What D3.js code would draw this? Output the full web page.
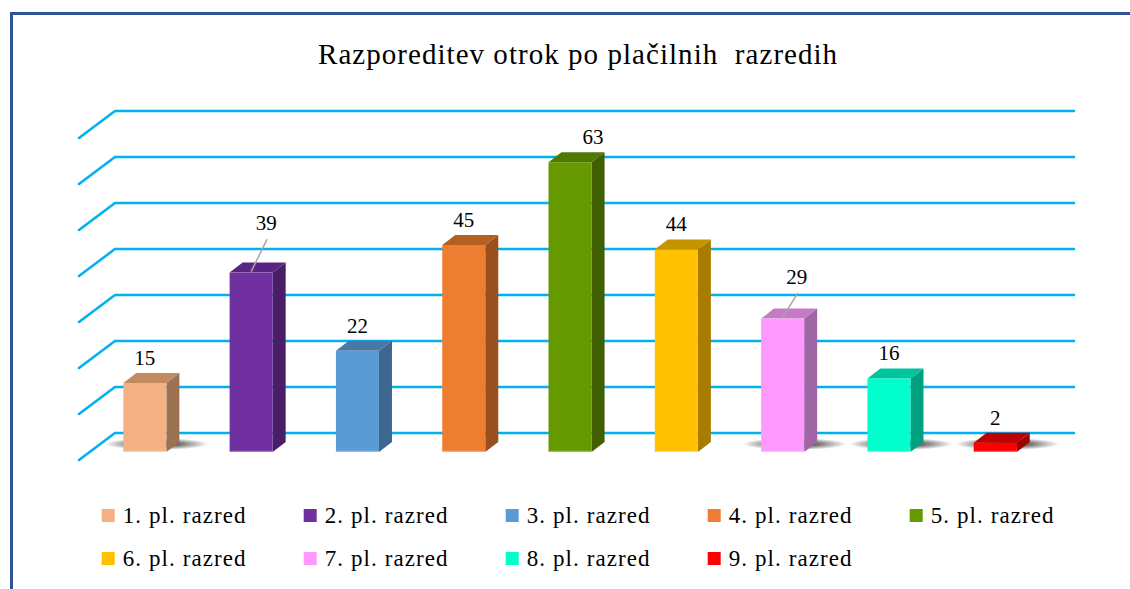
<!DOCTYPE html>
<html>
<head>
<meta charset="utf-8">
<script src="https://cdn.jsdelivr.net/npm/d3@7/dist/d3.min.js"></script>
<style>
  html, body { margin: 0; padding: 0; background: #fff; }
  #wrap { position: relative; width: 1130px; height: 589px; overflow: hidden; }
  svg { display: block; position: absolute; left: 0; top: 0; }
  .lbl { position: absolute; white-space: pre; line-height: 1; color: #000;
         font-family: "Liberation Serif", "Times New Roman", Tinos, serif; }
</style>
</head>
<body>
<div id="wrap"><svg id="chart" width="1130" height="589"></svg></div>
<script>
// ---- data ----
const title = "Razporeditev otrok po plačilnih  razredih";
const categories = ["1. pl. razred", "2. pl. razred", "3. pl. razred", "4. pl. razred", "5. pl. razred",
                    "6. pl. razred", "7. pl. razred", "8. pl. razred", "9. pl. razred"];
const values = [15, 39, 22, 45, 63, 44, 29, 16, 2];
const gridTicks = [0, 10, 20, 30, 40, 50, 60, 70];

// ---- style ----
const frontColors = ["#F4B183", "#7030A0", "#5B9BD5", "#ED7D31", "#669900", "#FFC000", "#FF99FF", "#00FFCC", "#FF0000"];
const topColors   = ["#C48A60", "#5A2582", "#4978A8", "#B65F22", "#4E7800", "#C49300", "#C47AC4", "#00C49C", "#C00000"];
const sideColors  = ["#9C7152", "#4A1E66", "#3C6790", "#9A4F1E", "#405F00", "#A67D00", "#A065A5", "#00A080", "#A00000"];
const shadowed    = [true, false, false, false, false, false, true, true, true];
const labelNudge  = [[0,0],[15,-24],[0,0],[0,0],[23,0],[0,0],[14,-16],[0,0],[0,0]];
const leader      = [false, true, false, false, false, false, true, false, false];

const svg = d3.select("#chart");
const wrap = d3.select("#wrap");
const BASE = 0.84; // baseline position as a fraction of font size (line-height 1)

// HTML text helper: place text with its baseline at y
function addText(str, x, y, size, anchor) {
  const el = wrap.append("div").attr("class", "lbl")
    .style("font-size", size + "px").text(str);
  const w = el.node().getBoundingClientRect().width;
  const left = anchor === "middle" ? x - w / 2 : x;
  el.style("left", left + "px").style("top", (y - BASE * size) + "px");
  return el;
}
function fitWidth(el, target) {
  const n = el.text().length;
  const w = el.node().getBoundingClientRect().width;
  el.style("letter-spacing", ((target - w) / n).toFixed(2) + "px");
}

// frame
svg.append("path")
  .attr("d", "M11.5,589 L11.5,13.5 L1130,13.5")
  .attr("fill", "none").attr("stroke", "#2F5597").attr("stroke-width", 3);

// title
const tEl = addText(title, 318, 64, 29, "start");
fitWidth(tEl, 520);

// scales
const depthX = 36, depthY = 27;
const barDX = 13, barDY = 10;
const yBack  = d3.scaleLinear().domain([0, 70]).range([433, 111]);
const yFront = d3.scaleLinear().domain([0, 70]).range([452, 130]);
const x = d3.scaleBand().domain(categories).range([91.7, 1048.4])
  .paddingInner(0.595).paddingOuter(0.2975);

// gridlines
svg.append("g").attr("stroke", "#00B0F0").attr("stroke-width", 2.5)
  .attr("fill", "none").attr("stroke-linecap", "round")
  .selectAll("path").data(gridTicks).join("path")
  .attr("d", t => {
    const yb = yBack(t);
    return `M${115 - depthX},${yb + depthY} L115,${yb} L1074,${yb}`;
  });

// shadow gradient
const defs = svg.append("defs");
const rg = defs.append("radialGradient").attr("id", "shadowGrad");
rg.append("stop").attr("offset", "0%").attr("stop-color", "#000").attr("stop-opacity", 0.8);
rg.append("stop").attr("offset", "45%").attr("stop-color", "#000").attr("stop-opacity", 0.55);
rg.append("stop").attr("offset", "100%").attr("stop-color", "#000").attr("stop-opacity", 0);

const data = categories.map((c, i) => ({ c, v: values[i], i }));

svg.append("g").selectAll("ellipse").data(data.filter(d => shadowed[d.i])).join("ellipse")
  .attr("cx", d => x(d.c) + x.bandwidth() / 2 + 12)
  .attr("cy", yFront(0) - 8)
  .attr("rx", 52).attr("ry", 6)
  .attr("fill", "url(#shadowGrad)");

// bars
const bars = svg.append("g").selectAll("g").data(data).join("g");
bars.append("path")
  .attr("d", d => {
    const x1 = x(d.c) + x.bandwidth(), y0 = yFront(0), yt = yFront(d.v);
    return `M${x1},${y0} L${x1 + barDX},${y0 - barDY} L${x1 + barDX},${yt - barDY} L${x1},${yt} Z`;
  })
  .attr("fill", d => sideColors[d.i]);
bars.append("path")
  .attr("d", d => {
    const x0 = x(d.c), x1 = x0 + x.bandwidth(), yt = yFront(d.v);
    return `M${x0},${yt} L${x0 + barDX},${yt - barDY} L${x1 + barDX},${yt - barDY} L${x1},${yt} Z`;
  })
  .attr("fill", d => topColors[d.i]);
bars.append("rect")
  .attr("x", d => x(d.c))
  .attr("y", d => yFront(d.v))
  .attr("width", x.bandwidth())
  .attr("height", d => yFront(0) - yFront(d.v))
  .attr("fill", d => frontColors[d.i]);
bars.append("line")
  .attr("x1", d => x(d.c)).attr("x2", d => x(d.c) + x.bandwidth())
  .attr("y1", yFront(0) - 0.5).attr("y2", yFront(0) - 0.5)
  .attr("stroke", "#fff").attr("stroke-opacity", 0.35).attr("stroke-width", 1.5);

// leader lines
svg.append("g").selectAll("line").data(data.filter(d => leader[d.i])).join("line")
  .attr("x1", d => x(d.c) + x.bandwidth() / 2)
  .attr("y1", d => yFront(d.v) - 1)
  .attr("x2", d => x(d.c) + x.bandwidth() / 2 + labelNudge[d.i][0] + 1)
  .attr("y2", d => yFront(d.v) - 17.5 + labelNudge[d.i][1] + 8)
  .attr("stroke", "#A6A6A6").attr("stroke-width", 1.5);

// value labels
data.forEach(d => {
  addText(String(d.v),
    x(d.c) + x.bandwidth() / 2 + labelNudge[d.i][0],
    yFront(d.v) - 17.5 + labelNudge[d.i][1], 21, "middle");
});

// legend
const leg = svg.append("g").selectAll("rect").data(data).join("rect")
  .attr("x", d => 101.7 + (d.i % 5) * 202)
  .attr("y", d => d.i < 5 ? 509 : 552)
  .attr("width", 13).attr("height", 13)
  .attr("fill", d => frontColors[d.i]);
data.forEach(d => {
  const el = addText(d.c, 101.7 + (d.i % 5) * 202 + 21, d.i < 5 ? 523 : 566, 23, "start");
  fitWidth(el, 124);
});
</script>
</body>
</html>
